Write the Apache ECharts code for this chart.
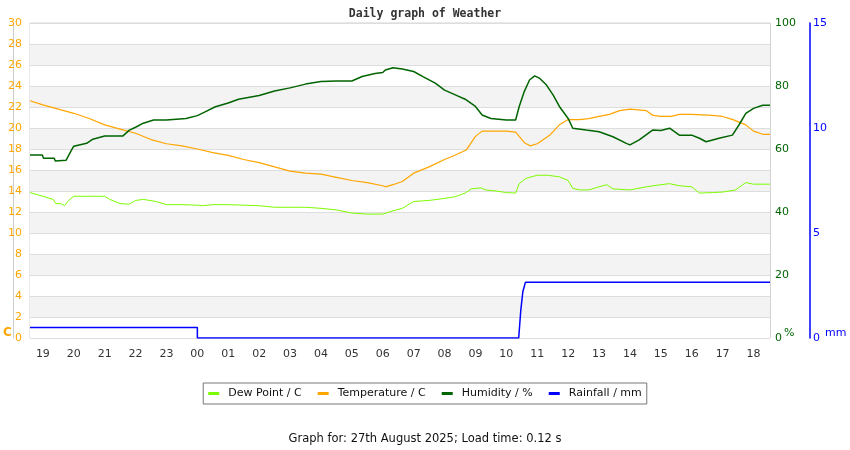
<!DOCTYPE html>
<html>
<head>
<meta charset="utf-8">
<script src="https://cdn.jsdelivr.net/npm/echarts@6/dist/echarts.min.js"></script>
<style>html,body{margin:0;padding:0;background:#fff}#c{width:850px;height:450px}</style>
</head>
<body>
<div id="c"></div>
<script>
// ---- data (times are HH:MM, starting 26 Aug 2025 evening, rolling into 27 Aug) ----
const seriesNames = ['Dew Point / C', 'Temperature / C', 'Humidity / %', 'Rainfall / mm'];
const axisStart = '18:35';
const axisEnd = '18:32';

const tempTimes = ['18:35','19:00','19:30','20:00','20:30','21:00','21:30','22:00','22:30','23:00','23:30','00:00','00:30','01:00','01:30','02:00','02:30','03:00','03:30','04:00','04:30','05:00','05:30','06:00','06:05','06:20','06:38','07:00','07:30','08:00','08:20','08:42','09:00','09:13','09:30','10:00','10:18','10:25','10:35','10:46','11:00','11:24','11:43','12:00','12:22','12:40','13:00','13:20','13:40','14:00','14:32','14:45','15:00','15:20','15:36','16:00','16:40','17:00','17:20','17:45','18:00','18:18','18:32'];
const tempValues = [22.6,22.2,21.8,21.4,20.9,20.3,19.9,19.5,18.9,18.5,18.3,18.0,17.65,17.4,17.0,16.7,16.3,15.9,15.7,15.6,15.3,15.0,14.8,14.5,14.4,14.6,14.9,15.7,16.3,17.0,17.4,17.9,19.2,19.7,19.7,19.7,19.6,19.2,18.6,18.3,18.5,19.3,20.3,20.8,20.8,20.9,21.1,21.3,21.65,21.8,21.65,21.2,21.1,21.1,21.3,21.3,21.2,21.1,20.8,20.3,19.7,19.4,19.4];

const dewTimes = ['18:35','19:00','19:20','19:25','19:35','19:42','19:50','20:00','20:30','21:00','21:10','21:30','21:48','22:00','22:15','22:40','23:00','23:30','00:00','00:10','00:30','01:00','01:30','02:00','02:30','03:00','03:30','04:00','04:30','05:00','05:30','06:00','06:12','06:38','07:00','07:30','08:00','08:20','08:40','08:52','09:10','09:20','09:40','10:00','10:18','10:25','10:38','11:00','11:20','11:43','12:00','12:09','12:22','12:40','13:00','13:15','13:27','14:00','14:32','15:00','15:17','15:36','16:00','16:15','16:40','17:00','17:25','17:45','18:00','18:32'];
const dewValues = [13.85,13.5,13.2,12.8,12.8,12.6,13.1,13.5,13.5,13.5,13.2,12.8,12.75,13.1,13.2,13.0,12.7,12.7,12.65,12.6,12.7,12.7,12.65,12.6,12.45,12.45,12.45,12.35,12.2,11.9,11.8,11.8,12.0,12.35,13.0,13.1,13.3,13.45,13.8,14.2,14.3,14.1,14.0,13.85,13.8,14.7,15.2,15.5,15.5,15.35,15.0,14.25,14.1,14.1,14.4,14.6,14.2,14.1,14.4,14.6,14.7,14.5,14.4,13.8,13.85,13.9,14.1,14.8,14.65,14.65];

const humTimes = ['18:35','18:59','19:01','19:22','19:24','19:45','19:55','20:00','20:25','20:37','21:00','21:35','21:48','22:00','22:15','22:35','23:00','23:38','00:00','00:15','00:35','01:00','01:20','02:00','02:30','03:00','03:30','04:00','04:30','05:00','05:20','05:45','06:00','06:05','06:20','06:38','07:00','07:18','07:42','08:00','08:22','08:40','09:00','09:13','09:30','10:00','10:18','10:25','10:35','10:45','10:55','11:05','11:18','11:31','11:43','12:00','12:09','12:35','13:00','13:27','13:53','14:00','14:18','14:44','15:00','15:17','15:36','16:00','16:15','16:28','16:53','17:19','17:32','17:45','18:00','18:18','18:32'];
const humValues = [58.1,58.1,57.1,57.1,56.2,56.4,59.5,60.9,61.8,63.1,64.1,64.1,66.0,66.9,68.2,69.2,69.2,69.7,70.6,71.8,73.4,74.6,75.8,77.0,78.4,79.4,80.6,81.4,81.6,81.6,83.0,84.0,84.3,85.1,85.8,85.4,84.6,83.0,80.9,78.7,77.1,75.8,73.5,70.8,69.7,69.2,69.2,73.5,78.3,81.9,83.2,82.4,80.3,77.1,73.5,69.7,66.6,66.0,65.5,63.9,61.8,61.3,62.9,66.0,65.9,66.6,64.4,64.4,63.4,62.3,63.4,64.4,67.7,71.3,72.9,73.9,73.9];

const rainTimes = ['18:35','00:00','00:00','10:24','10:28','10:32','10:37','18:32'];
const rainValues = [0.5,0.5,0,0,1.3,2.2,2.65,2.65];

const tempTicks = {min: 0, max: 30, interval: 2};
const humTicks = {min: 0, max: 100, interval: 20};
const rainTicks = {min: 0, max: 15, interval: 5};

// ---- helpers ----
function toStamp(t, day) {
  const p = t.split(':').map(Number);
  return new Date(2025, 7, 26 + day, p[0], p[1]).getTime();
}
function toPairs(times, values) {
  let day = 0, prev = -1;
  return times.map((t, i) => {
    const p = t.split(':').map(Number);
    const mins = p[0] * 60 + p[1];
    if (mins < prev) day++;
    prev = mins;
    return [toStamp(t, day), values[i]];
  });
}
const pad = n => (n < 10 ? '0' : '') + n;
const FONT = 'DejaVu Sans';

const chart = echarts.init(document.getElementById('c'), null, {renderer: 'canvas'});
chart.setOption({
  animation: false,
  backgroundColor: '#ffffff',
  title: [
    {text: 'Daily graph of Weather', left: 'center', top: 8, padding: 0,
     textStyle: {fontFamily: 'DejaVu Sans Mono', fontWeight: 'bold', fontSize: 11.5, color: '#333'}},
    {text: 'Graph for: 27th August 2025; Load time: 0.12 s', left: 'center', top: 433, padding: 0,
     textStyle: {fontFamily: FONT, fontWeight: 'normal', fontSize: 11.5, color: '#111'}}
  ],
  legend: {
    data: seriesNames, left: 'center', top: 383, padding: [5, 5],
    borderColor: '#777', borderWidth: 1, itemGap: 16, itemWidth: 11, itemHeight: 3, icon: 'rect',
    textStyle: {fontFamily: FONT, fontSize: 11, color: '#111', padding: [0, 0, 0, 4]}
  },
  grid: {left: 30, right: 80, top: 23, bottom: 112, show: true, borderColor: '#d3d3d3', borderWidth: 1},
  xAxis: {
    type: 'time',
    min: toStamp(axisStart, 0), max: toStamp(axisEnd, 1),
    minInterval: 3600000, maxInterval: 3600000,
    axisLine: {show: false}, axisTick: {show: false},
    splitLine: {show: true, lineStyle: {color: '#d3d3d3'}},
    axisLabel: {formatter: v => pad(new Date(v).getHours()), color: '#333', fontFamily: FONT, fontSize: 11,
                margin: 11, showMinLabel: false, showMaxLabel: false, hideOverlap: false}
  },
  yAxis: [
    {type: 'value', position: 'left', offset: 17, min: 0, max: 30,
     axisLine: {show: true, lineStyle: {color: '#cccccc'}}, axisTick: {show: false}, axisLabel: {show: false}, splitLine: {show: false}},
    {type: 'value', position: 'left', min: tempTicks.min, max: tempTicks.max, interval: tempTicks.interval, z: 1,
     axisLine: {show: false}, axisTick: {show: false},
     axisLabel: {color: '#ffa500', fontFamily: FONT, fontSize: 11, margin: 8},
     splitLine: {show: true, lineStyle: {color: '#dddddd'}},
     splitArea: {show: true, areaStyle: {color: ['#ffffff', '#f3f3f3']}}},
    {type: 'value', position: 'right', min: humTicks.min, max: humTicks.max, interval: humTicks.interval,
     axisLine: {show: false}, axisTick: {show: false}, splitLine: {show: false},
     axisLabel: {color: '#006400', fontFamily: FONT, fontSize: 11, margin: 5}},
    {type: 'value', position: 'right', offset: 40, min: rainTicks.min, max: rainTicks.max, interval: rainTicks.interval,
     axisLine: {show: true, lineStyle: {color: '#0000ff', width: 1.5}}, axisTick: {show: false}, splitLine: {show: false},
     axisLabel: {color: '#0000ff', fontFamily: FONT, fontSize: 11, margin: 3}}
  ],
  graphic: [
    {type: 'text', left: 3, top: 327, style: {text: 'C', fill: '#ffa500', font: 'bold 12px DejaVu Sans'}},
    {type: 'text', left: 784, top: 328, style: {text: '%', fill: '#006400', font: '11px DejaVu Sans'}},
    {type: 'text', left: 825, top: 328, style: {text: 'mm', fill: '#0000ff', font: '11px DejaVu Sans'}}
  ],
  series: [
    {name: seriesNames[0], type: 'line', yAxisIndex: 1, showSymbol: false, symbol: 'none',
     data: toPairs(dewTimes, dewValues), lineStyle: {color: '#7cfc00', width: 1}, itemStyle: {color: '#7cfc00'}},
    {name: seriesNames[1], type: 'line', yAxisIndex: 1, showSymbol: false, symbol: 'none',
     data: toPairs(tempTimes, tempValues), lineStyle: {color: '#ffa500', width: 1.2}, itemStyle: {color: '#ffa500'}},
    {name: seriesNames[2], type: 'line', yAxisIndex: 2, showSymbol: false, symbol: 'none',
     data: toPairs(humTimes, humValues), lineStyle: {color: '#006400', width: 1.5}, itemStyle: {color: '#006400'}},
    {name: seriesNames[3], type: 'line', yAxisIndex: 3, showSymbol: false, symbol: 'none',
     data: toPairs(rainTimes, rainValues), lineStyle: {color: '#0000ff', width: 1.5}, itemStyle: {color: '#0000ff'}}
  ]
});
</script>
</body>
</html>
